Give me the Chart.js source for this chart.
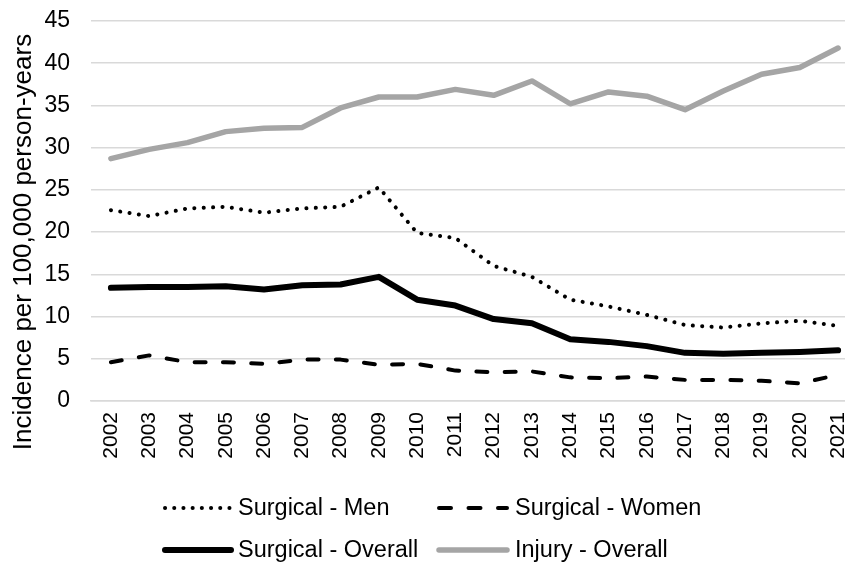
<!DOCTYPE html>
<html><head><meta charset="utf-8">
<script src="https://cdn.jsdelivr.net/npm/chart.js@4/dist/chart.umd.min.js"></script>
<style>html,body{margin:0;padding:0;background:#fff;}#wrap{width:845px;height:562px;position:relative;}</style>
</head><body><div id="wrap"><canvas id="c" width="845" height="562"></canvas></div>
<script>
const years = [2002,2003,2004,2005,2006,2007,2008,2009,2010,2011,2012,2013,2014,2015,2016,2017,2018,2019,2020,2021];
const surgicalMen = [22.6,21.9,22.8,23.0,22.3,22.8,23.0,25.3,19.9,19.3,16.0,14.7,12.0,11.2,10.2,9.0,8.7,9.2,9.5,8.9];
const surgicalWomen = [4.6,5.4,4.6,4.6,4.4,4.9,4.9,4.3,4.4,3.6,3.4,3.5,2.8,2.7,2.9,2.5,2.5,2.4,2.1,3.1];
const surgicalOverall = [13.4,13.5,13.5,13.6,13.2,13.7,13.8,14.7,12.0,11.3,9.7,9.2,7.3,7.0,6.5,5.7,5.6,5.7,5.8,6.0];
const injuryOverall = [28.7,29.8,30.6,31.9,32.3,32.4,34.7,36.0,36.0,36.9,36.2,37.9,35.2,36.6,36.1,34.5,36.7,38.7,39.5,41.8];
const seriesNames = ["Surgical - Men","Surgical - Women","Surgical - Overall","Injury - Overall"];
const yTitle = "Incidence per 100,000 person-years";

const FONT = "'Liberation Sans', Arial, sans-serif";
const pts = arr => arr.map((v,i)=>({x:years[i], y:v}));

const datasets = [
  {label:seriesNames[3], data:pts(injuryOverall), borderColor:'#a5a5a5', borderWidth:5.5, borderCapStyle:'round', borderJoinStyle:'round', legendDash:[]},
  {label:seriesNames[2], data:pts(surgicalOverall), borderColor:'#000', borderWidth:6, borderCapStyle:'round', borderJoinStyle:'round', legendDash:[]},
  {label:seriesNames[0], data:pts(surgicalMen), borderColor:'#000', borderWidth:4, borderDash:[0.1,9.3], borderCapStyle:'round', borderJoinStyle:'round', legendDash:[0.1,9.1]},
  {label:seriesNames[1], data:pts(surgicalWomen), borderColor:'#000', borderWidth:4, borderDash:[11,17.3], borderCapStyle:'round', borderJoinStyle:'round', legendDash:[12,17.5]}
];
datasets.forEach(d=>{d.pointRadius=0; d.fill=false; d.tension=0;});

const legendPlugin = {
  id:'customLegend',
  afterDraw(chart){
    const ctx = chart.ctx;
    const items = [
      {ds:2, x0:165, x1:231, tx:238, y:508}, {ds:3, x0:439, x1:507, tx:515, y:508},
      {ds:1, x0:165, x1:231, tx:238, y:550}, {ds:0, x0:439, x1:507, tx:515, y:550}
    ];
    ctx.save();
    items.forEach(it=>{
      const d = chart.data.datasets[it.ds];
      ctx.beginPath();
      ctx.strokeStyle = d.borderColor;
      ctx.lineWidth = d.borderWidth;
      ctx.lineCap = 'round';
      ctx.setLineDash(d.legendDash);
      ctx.moveTo(it.x0, it.y);
      ctx.lineTo(it.x1, it.y);
      ctx.stroke();
      ctx.setLineDash([]);
      ctx.fillStyle = '#000';
      ctx.font = '23.5px ' + FONT;
      ctx.textBaseline = 'middle';
      ctx.textAlign = 'left';
      ctx.fillText(d.label, it.tx, it.y + 1);
    });
    // y-axis title
    ctx.translate(31, 242);
    ctx.rotate(-Math.PI/2);
    ctx.font = '26px ' + FONT;
    ctx.textAlign = 'center';
    ctx.textBaseline = 'alphabetic';
    ctx.fillText(yTitle, 0, 0);
    ctx.restore();
  }
};

new Chart(document.getElementById('c'), {
  type:'line',
  data:{datasets},
  options:{
    responsive:false, animation:false,
    layout:{padding:{top:21,right:0,left:0,bottom:0}},
    plugins:{legend:{display:false}, tooltip:{enabled:false}},
    scales:{
      x:{type:'linear', min:2001.48, max:2021.18,
        afterBuildTicks(s){ s.ticks = years.map(v=>({value:v})); },
        afterFit(s){ s.paddingLeft = 0; s.paddingRight = 0; s.height = 161; },
        grid:{display:false, drawTicks:false},
        border:{display:true, color:'#d9d9d9', width:1.5},
        ticks:{autoSkip:false, minRotation:90, maxRotation:90, padding:11, color:'#000',
          font:{family:FONT, size:21}, callback:v=>String(v)}
      },
      y:{min:0, max:45,
        afterFit(s){ s.width = 91; s.paddingTop = 0; s.paddingBottom = 0; },
        ticks:{stepSize:5, color:'#000', padding:21, font:{family:FONT, size:23}},
        grid:{color:'#d9d9d9', lineWidth:1.5, drawTicks:false},
        border:{display:false}
      }
    }
  },
  plugins:[legendPlugin]
});
</script></body></html>
